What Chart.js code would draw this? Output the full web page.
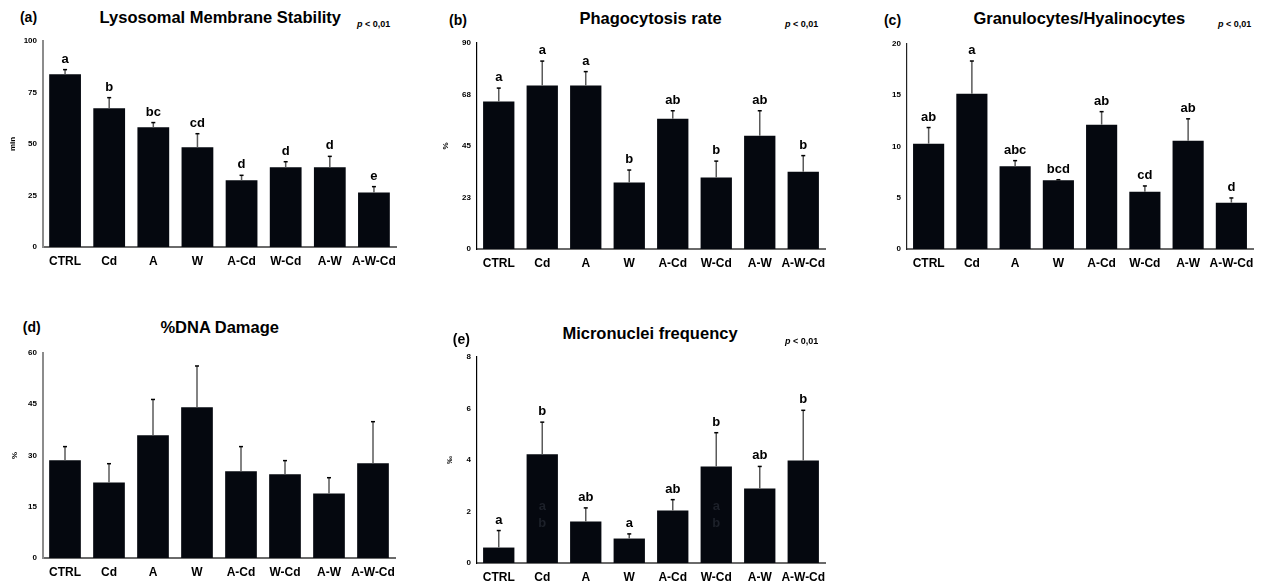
<!DOCTYPE html>
<html>
<head>
<meta charset="utf-8">
<script src="https://cdn.jsdelivr.net/npm/chart.js@4.4.1/dist/chart.umd.min.js"></script>
<style>
  html, body { margin: 0; padding: 0; background: #fff; }
  body { width: 1262px; height: 585px; position: relative; overflow: hidden; font-family: "Liberation Sans", Arial, sans-serif; }
  canvas { position: absolute; }
  .t { position: absolute; transform: translate(-50%, -50%); white-space: nowrap; font-weight: bold; color: #000; }
  .title { font-size: 16.5px; }
  .lab { font-size: 14px; }
  .p { position: absolute; transform: translateY(-50%); white-space: nowrap; font-weight: bold; font-size: 9px; color: #000; }
</style>
</head>
<body>
<script>
// ---------- data ----------
const categories = ['CTRL', 'Cd', 'A', 'W', 'A-Cd', 'W-Cd', 'A-W', 'A-W-Cd'];

const lmsMean = [83.8, 67.3, 58.1, 48.4, 32.4, 38.7, 38.7, 26.5];
const lmsSd = [2.3, 5.2, 2.3, 6.6, 2.4, 2.7, 5.3, 2.8];
const lmsLetters = ['a', 'b', 'bc', 'cd', 'd', 'd', 'd', 'e'];
const lmsTicks = [0, 25, 50, 75, 100];
const lmsTickLabels = ['0', '25', '50', '75', '100'];

const phagoMean = [64.4, 71.4, 71.4, 29.0, 56.9, 31.2, 49.5, 33.8];
const phagoSd = [5.9, 10.7, 6.1, 5.5, 3.5, 7.2, 10.9, 7.0];
const phagoLetters = ['a', 'a', 'a', 'b', 'ab', 'b', 'ab', 'b'];
const phagoTicks = [0, 22.5, 45, 67.5, 90];
const phagoTickLabels = ['0', '23', '45', '68', '90'];

const granMean = [10.28, 15.15, 8.07, 6.70, 12.13, 5.59, 10.57, 4.52];
const granSd = [1.57, 3.19, 0.55, 0.06, 1.27, 0.56, 2.13, 0.46];
const granLetters = ['ab', 'a', 'abc', 'bcd', 'ab', 'cd', 'ab', 'd'];
const granTicks = [0, 5, 10, 15, 20];
const granTickLabels = ['0', '5', '10', '15', '20'];

const dnaMean = [28.6, 22.1, 35.9, 44.1, 25.4, 24.5, 18.9, 27.7];
const dnaSd = [4.0, 5.5, 10.5, 12.1, 7.2, 4.0, 4.6, 12.2];
const dnaLetters = [];
const dnaTicks = [0, 15, 30, 45, 60];
const dnaTickLabels = ['0', '15', '30', '45', '60'];

const mnMean = [0.60, 4.22, 1.61, 0.95, 2.04, 3.75, 2.89, 3.98];
const mnSd = [0.66, 1.25, 0.53, 0.18, 0.42, 1.31, 0.86, 1.95];
const mnLetters = ['a', 'b', 'ab', 'a', 'ab', 'b', 'ab', 'b'];
// faint duplicate letters visible inside two bars of panel (e)
const mnGhostLetters = ['', 'a|b', '', '', '', 'a|b', '', ''];
const mnTicks = [0, 2, 4, 6, 8];
const mnTickLabels = ['0', '2', '4', '6', '8'];

// ---------- layout ----------
const FONT = '"Liberation Sans", Arial, sans-serif';
const Y_W = 45, PAD_T = 12, PAD_R = 9, X_H = 30;

const panels = [
  { id: 'a', title: 'Lysosomal Membrane Stability', yTitle: 'min', mean: lmsMean, sd: lmsSd, letters: lmsLetters,
    ticks: lmsTicks, tickLabels: lmsTickLabels, rect: [43, 396, 40.7, 246.7], yColor: '#8c8c8c', yWidth: 2,
    titlePos: [220.3, 17], labPos: [28.5, 17], pPos: [357, 24.3], yTitleX: 13 },
  { id: 'b', title: 'Phagocytosis rate', yTitle: '%', mean: phagoMean, sd: phagoSd, letters: phagoLetters,
    ticks: phagoTicks, tickLabels: phagoTickLabels, rect: [476.7, 825, 43.3, 249.3], yColor: '#000', yWidth: 1.2,
    titlePos: [650.5, 18.3], labPos: [458, 20], pPos: [785, 24.3], yTitleX: 445 },
  { id: 'c', title: 'Granulocytes/Hyalinocytes', yTitle: '', mean: granMean, sd: granSd, letters: granLetters,
    ticks: granTicks, tickLabels: granTickLabels, rect: [906.7, 1253, 44.3, 249.5], yColor: '#222', yWidth: 1.2,
    titlePos: [1079.3, 18.3], labPos: [892.5, 20], pPos: [1218, 24.3], yTitleX: 875 },
  { id: 'd', title: '%DNA Damage', yTitle: '%', mean: dnaMean, sd: dnaSd, letters: dnaLetters,
    ticks: dnaTicks, tickLabels: dnaTickLabels, rect: [43, 395, 352.7, 557.7], yColor: '#8c8c8c', yWidth: 2,
    titlePos: [219.7, 326.7], labPos: [31.7, 326.7], pPos: null, yTitleX: 15 },
  { id: 'e', title: 'Micronuclei frequency', yTitle: '‰', mean: mnMean, sd: mnSd, letters: mnLetters,
    ghost: mnGhostLetters,
    ticks: mnTicks, tickLabels: mnTickLabels, rect: [476.7, 825, 356.7, 562.3], yColor: '#000', yWidth: 1.2,
    titlePos: [650, 332.7], labPos: [461.3, 339.3], pPos: [785, 341], yTitleX: 449 }
];

const errPlugin = {
  id: 'errLetters',
  afterDatasetsDraw(chart, args, opts) {
    const ctx = chart.ctx;
    const meta = chart.getDatasetMeta(0);
    const ys = chart.scales.y;
    const data = chart.data.datasets[0].data;
    meta.data.forEach((bar, i) => {
      const top = ys.getPixelForValue(data[i] + opts.sd[i]);
      ctx.save();
      ctx.strokeStyle = '#5a5a5a';
      ctx.lineWidth = 1.5;
      ctx.beginPath();
      ctx.moveTo(bar.x, bar.y);
      ctx.lineTo(bar.x, top);
      ctx.stroke();
      ctx.strokeStyle = '#000';
      ctx.lineWidth = 1.5;
      ctx.beginPath();
      ctx.moveTo(bar.x - 2, top);
      ctx.lineTo(bar.x + 2, top);
      ctx.stroke();
      ctx.textAlign = 'center';
      ctx.textBaseline = 'alphabetic';
      if (opts.letters && opts.letters[i]) {
        ctx.fillStyle = '#000';
        ctx.font = 'bold 13px ' + FONT;
        ctx.fillText(opts.letters[i], bar.x, top - 7);
      }
      if (opts.ghost && opts.ghost[i]) {
        const parts = opts.ghost[i].split('|');
        const mid = (bar.y + bar.base) / 2;
        ctx.fillStyle = '#1d212a';
        ctx.font = 'bold 13px ' + FONT;
        ctx.textBaseline = 'middle';
        ctx.fillText(parts[0], bar.x, ys.getPixelForValue(2.2));
        ctx.fillText(parts[1], bar.x, ys.getPixelForValue(1.55));
      }
      ctx.restore();
    });
  }
};

function addText(cls, text, x, y) {
  const d = document.createElement('div');
  d.className = 't ' + cls;
  d.textContent = text;
  d.style.left = x + 'px';
  d.style.top = y + 'px';
  document.body.appendChild(d);
}

panels.forEach(p => {
  const [x0, x1, y0, y1] = p.rect;
  const left = x0 - Y_W, top = y0 - PAD_T;
  const w = Math.round(x1 - x0 + Y_W + PAD_R);
  const h = Math.round(y1 - y0 + PAD_T + X_H);
  const cv = document.createElement('canvas');
  cv.width = w; cv.height = h;
  cv.style.width = w + 'px'; cv.style.height = h + 'px';
  cv.style.left = left + 'px'; cv.style.top = top + 'px';
  document.body.appendChild(cv);

  const yTitleFont = 8;
  const yTitlePad = p.yTitleX - left - (yTitleFont * 1.2) / 2;

  new Chart(cv.getContext('2d'), {
    type: 'bar',
    data: {
      labels: categories,
      datasets: [{ data: p.mean, backgroundColor: '#05080f', borderWidth: 0,
        categoryPercentage: 1, barPercentage: 0.72 }]
    },
    options: {
      responsive: false,
      animation: false,
      devicePixelRatio: 1,
      layout: { padding: { top: PAD_T, right: PAD_R, left: 0, bottom: 0 } },
      plugins: {
        legend: { display: false },
        tooltip: { enabled: false },
        errLetters: { sd: p.sd, letters: p.letters, ghost: p.ghost || null }
      },
      scales: {
        x: {
          grid: { display: false, drawTicks: false },
          border: { display: true, color: '#6a6a6a', width: 2 },
          ticks: { color: '#000', font: { family: FONT, size: 12, weight: 'bold' }, padding: 7, maxRotation: 0, autoSkip: false },
          afterFit(s) { s.height = X_H; }
        },
        y: {
          min: p.ticks[0], max: p.ticks[p.ticks.length - 1],
          grid: { display: false, drawTicks: false },
          border: { display: true, color: p.yColor, width: p.yWidth },
          afterBuildTicks(s) { s.ticks = p.ticks.map(v => ({ value: v })); },
          ticks: {
            color: '#000', font: { family: FONT, size: 8, weight: 'bold' }, padding: 6,
            callback: (v, i) => p.tickLabels[i]
          },
          title: { display: !!p.yTitle, text: p.yTitle, color: '#000',
            font: { family: FONT, size: yTitleFont, weight: 'bold' }, padding: { top: yTitlePad, bottom: 0 } },
          afterFit(s) { s.width = Y_W; }
        }
      }
    },
    plugins: [errPlugin]
  });

  addText('title', p.title, p.titlePos[0], p.titlePos[1]);
  addText('lab', '(' + p.id + ')', p.labPos[0], p.labPos[1]);
  if (p.pPos) {
    const d = document.createElement('div');
    d.className = 'p';
    d.innerHTML = '<i>p</i> &lt; 0,01';
    d.style.left = p.pPos[0] + 'px';
    d.style.top = p.pPos[1] + 'px';
    document.body.appendChild(d);
  }
});
</script>
</body>
</html>
